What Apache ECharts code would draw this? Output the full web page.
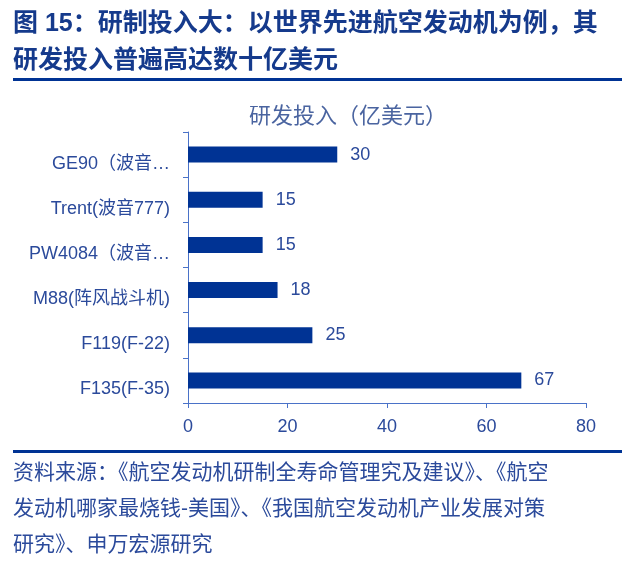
<!DOCTYPE html>
<html>
<head>
<meta charset="utf-8">
<script src="https://cdn.jsdelivr.net/npm/echarts@6/dist/echarts.min.js"></script>
<style>
  html, body { margin: 0; padding: 0; background: #fff; }
  #main { width: 634px; height: 567px; }
</style>
</head>
<body>
<div id="main"></div>
<script type="text/javascript">
// engines, top to bottom, as labelled in the figure
const engines = ['GE90（波音…', 'Trent(波音777)', 'PW4084（波音…', 'M88(阵风战斗机)', 'F119(F-22)', 'F135(F-35)'];
const rdSpend = [30, 15, 15, 18, 25, 67];   // 亿美元
const xTicks = [0, 20, 40, 60, 80];

const headLines = ['图 15：研制投入大：以世界先进航空发动机为例，其', '研发投入普遍高达数十亿美元'];
const chartTitle = '研发投入（亿美元）';
const sourceLines = [
  '资料来源：《航空发动机研制全寿命管理究及建议》、《航空',
  '发动机哪家最烧钱-美国》、《我国航空发动机产业发展对策',
  '研究》、申万宏源研究'
];

const FONT = '"Liberation Sans", "Noto Sans CJK SC", sans-serif';
const navy = '#153a8c', bar = '#003394', txt = '#2b4a9b', axis = '#4a72c8';

var myChart = echarts.init(document.getElementById('main'), null, {width: 634, height: 567});

var graphics = [];
headLines.forEach(function(t, i){
  graphics.push({type: 'text', left: 13, top: 12 + i * 37,
    style: {text: t, fill: navy, font: 'bold 25px ' + FONT}});
});
graphics.push({type: 'rect', shape: {x: 13, y: 78, width: 609, height: 3}, style: {fill: bar}});
graphics.push({type: 'rect', shape: {x: 13, y: 450, width: 609, height: 3}, style: {fill: bar}});
sourceLines.forEach(function(t, i){
  graphics.push({type: 'text', left: 13, top: 463 + i * 36,
    style: {text: t, fill: txt, font: '21px ' + FONT}});
});

var option = {
  animation: false,
  title: {
    text: chartTitle, left: 343, top: 101, textAlign: 'center',
    textStyle: {color: '#4a64a0', fontSize: 22, fontWeight: 'normal', fontFamily: FONT}
  },
  graphic: graphics,
  grid: {left: 188, right: 48, top: 132, bottom: 164, containLabel: false},
  xAxis: {
    type: 'value', min: xTicks[0], max: xTicks[xTicks.length - 1], interval: 20,
    splitLine: {show: false},
    axisLine: {show: true, lineStyle: {color: axis, width: 1}},
    axisTick: {show: true, length: 5, lineStyle: {color: axis}},
    axisLabel: {color: txt, fontSize: 18, fontFamily: FONT, margin: 15}
  },
  yAxis: {
    type: 'category', data: engines, inverse: true,
    axisLine: {show: true, lineStyle: {color: axis, width: 1}},
    axisTick: {show: true, length: 5, lineStyle: {color: axis}},
    // labels sit a little below the bar centres in the original
    axisLabel: {color: txt, fontSize: 18, fontFamily: FONT, margin: 18, verticalAlign: 'top', lineHeight: 18}
  },
  series: [{
    type: 'bar', data: rdSpend, barWidth: 16,
    itemStyle: {color: bar},
    label: {show: true, position: 'right', distance: 13, color: txt, fontSize: 18, fontFamily: FONT}
  }]
};
myChart.setOption(option);
</script>
</body>
</html>
